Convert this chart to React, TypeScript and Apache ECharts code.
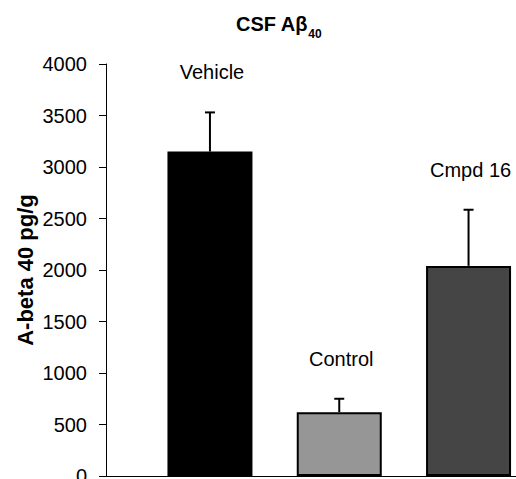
import React, { useEffect, useRef } from "react";
import * as echarts from "echarts";

const categories = ["Vehicle", "Control", "Cmpd 16"];
const means = [3150, 620, 2040];
const upperErrors = [3530, 750, 2585];
const barColors = ["#000000", "#969696", "#454545"];
const yTicks = { min: 0, max: 4000, interval: 500 };

const FONT = "'Liberation Sans', Arial, sans-serif";

export default function App() {
  const ref = useRef<HTMLDivElement>(null);
  useEffect(() => {
    if (!ref.current) return;
    const chart = echarts.init(ref.current, null, { renderer: "svg" });
    const barData = means.map((v, i) => ({
      value: [i, v],
      itemStyle: { color: barColors[i] },
    }));
    const errData = means.map((v, i) => [i, v, upperErrors[i]]);
    chart.setOption({
      animation: false,
      title: {
        text: "{a|CSF Aβ}{s|40}",
        left: 236,
        top: 14,
        padding: 0,
        textStyle: {
          rich: {
            a: {
              fontSize: 20,
              fontWeight: "bold",
              fontFamily: FONT,
              color: "#000",
              lineHeight: 22,
              verticalAlign: "top",
            },
            s: {
              fontSize: 12,
              fontWeight: "bold",
              fontFamily: FONT,
              color: "#000",
              lineHeight: 40,
            },
          },
        },
      },
      grid: {
        left: 106,
        top: 64,
        right: 0,
        bottom: 3,
        containLabel: false,
        outerBoundsMode: "none",
      },
      xAxis: {
        type: "value",
        min: -0.804,
        max: 2.367,
        axisLine: { show: true, onZero: false, lineStyle: { color: "#000", width: 1 } },
        axisTick: { show: false },
        axisLabel: { show: false },
        splitLine: { show: false },
      },
      yAxis: {
        type: "value",
        min: yTicks.min,
        max: yTicks.max,
        interval: yTicks.interval,
        name: "A-beta 40 pg/g",
        nameLocation: "middle",
        nameGap: 70,
        nameMoveOverlap: false,
        nameTextStyle: {
          fontSize: 22,
          fontWeight: "bold",
          fontFamily: FONT,
          color: "#000",
        },
        axisLine: { show: true, onZero: false, lineStyle: { color: "#000", width: 1 } },
        axisTick: { show: true, length: 7, lineStyle: { color: "#000", width: 1 } },
        axisLabel: {
          fontSize: 20,
          fontFamily: FONT,
          color: "#000",
          margin: 19,
          formatter: (v: number) => String(v),
        },
        splitLine: { show: false },
      },
      series: [
        {
          type: "bar",
          data: barData,
          barWidth: 85,
          itemStyle: { borderColor: "#000", borderWidth: 2 },
        },
        {
          type: "custom",
          data: errData,
          encode: { x: 0, y: [1, 2] },
          z: 5,
          renderItem: (params: any, api: any) => {
            const idx = params.dataIndex;
            const x = api.value(0);
            const top = api.coord([x, api.value(1)]);
            const cap = api.coord([x, api.value(2)]);
            const style = { stroke: "#000", lineWidth: 2 };
            return {
              type: "group",
              children: [
                { type: "line", shape: { x1: top[0], y1: top[1], x2: cap[0], y2: cap[1] }, style },
                { type: "line", shape: { x1: cap[0] - 5, y1: cap[1], x2: cap[0] + 5, y2: cap[1] }, style },
                {
                  type: "text",
                  style: {
                    x: cap[0] + 2,
                    y: cap[1] - 40,
                    text: categories[idx],
                    fontSize: 20,
                    fontFamily: FONT,
                    fill: "#000",
                    align: "center",
                    verticalAlign: "middle",
                  },
                },
              ],
            };
          },
        },
      ],
    });
    return () => chart.dispose();
  }, []);
  return (
    <div
      ref={ref}
      style={{ position: "fixed", left: 0, top: 0, width: 516, height: 479, background: "#fff" }}
    />
  );
}
